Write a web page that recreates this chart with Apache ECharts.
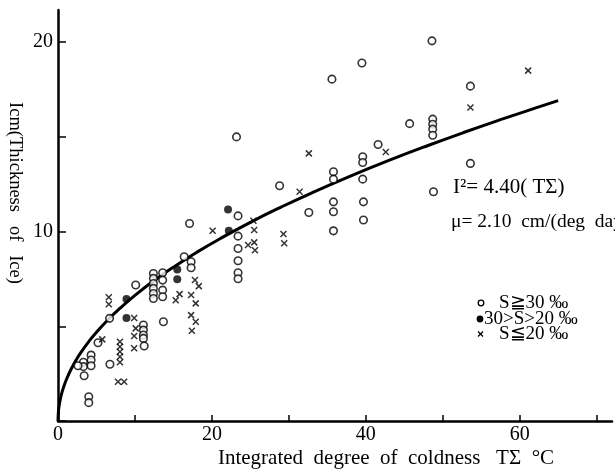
<!DOCTYPE html>
<html>
<head>
<meta charset="utf-8">
<script src="https://cdn.jsdelivr.net/npm/echarts@6/dist/echarts.min.js"></script>
<style>
  html, body { margin: 0; padding: 0; background: #fff; }
  #chart { width: 615px; height: 469px; }
</style>
</head>
<body>
<div id="chart"></div>
<script>
// Ice thickness vs. integrated degree of coldness, grouped by salinity
const highSalinity = [ // S ≧ 30‰ (open circles)
  [17.1,10.43],[16.4,8.67],[17.3,8.41],[17.3,8.09],
  [12.4,7.79],[12.4,7.53],[12.4,7.26],[12.4,7.0],[12.4,6.73],[12.4,6.47],
  [13.6,7.83],[13.6,7.44],[13.6,6.91],[13.6,6.56],
  [10.1,7.18],[6.7,5.42],[13.7,5.24],
  [11.1,5.07],[11.1,4.80],[11.1,4.54],[11.1,4.36],[11.2,3.96],
  [5.2,4.13],[4.3,3.48],[4.3,3.22],[4.3,2.92],
  [3.3,3.1],[3.3,2.87],[3.4,2.39],[2.6,2.92],[6.75,3.0],[4.0,1.28],[4.0,0.97],
  [23.4,10.83],[23.4,9.76],[23.4,9.11],[23.4,8.46],[23.4,7.83],[23.4,7.51],
  [23.2,15.0],[32.6,11.01],[35.8,11.57],[35.8,11.05],[35.8,10.04],[39.7,11.57],[39.7,10.61],
  [35.6,18.05],[39.5,18.9],[28.8,12.42],[35.8,13.16],[35.8,12.77],
  [39.6,13.95],[39.6,13.65],[39.6,12.77],[41.6,14.6],[45.7,15.7],
  [48.6,20.07],[53.6,17.68],[48.7,15.94],[48.7,15.67],[48.7,15.41],[48.7,15.09],
  [53.6,13.6],[48.8,12.1]
];
const midSalinity = [ // 30 > S > 20‰ (filled circles)
  [22.1,11.17],[22.2,10.04],[15.5,8.0],[15.5,7.48],[8.9,6.44],[8.9,5.44]
];
const lowSalinity = [ // S ≦ 20‰ (crosses)
  [20.1,10.04],[17.8,7.44],[18.3,7.12],[15.8,6.70],[15.3,6.38],[17.3,6.65],[17.9,6.21],
  [17.3,5.59],[17.9,5.24],[17.4,4.77],[6.6,6.53],[6.6,6.16],[9.9,5.44],[10.1,4.89],
  [9.9,4.49],[9.9,3.84],[5.75,4.31],[8.05,4.18],[8.05,3.92],[8.05,3.66],[8.05,3.39],
  [8.05,3.1],[7.8,2.07],[8.6,2.07],
  [25.4,10.57],[25.5,10.08],[24.7,9.29],[25.5,9.43],[25.6,9.02],[29.3,9.87],[29.4,9.38],
  [32.6,14.13],[31.4,12.1],[42.6,14.2],[61.1,18.5],[53.6,16.55]
];

// Fitted relation I^2 = K * TΣ
const K = 4.40;
const curveT = [0, 0.05, 0.15, 0.3, 0.5, 0.8, 1.2, 1.7, 2.3, 3, 4, 5, 6.5, 8, 10, 12.5, 15,
  18, 21, 25, 29, 33, 38, 43, 48, 53, 58, 62, 65];
const fitCurve = curveT.map(t => [t, Math.sqrt(K * t)]);

const xTickLabels = [0, 20, 40, 60];
const yTickLabels = [10, 20];

const serif = '"Liberation Serif", "DejaVu Serif", serif';
const crossPath = 'path://M0,0L10,10M10,0L0,10';

const chart = echarts.init(document.getElementById('chart'), null, { renderer: 'canvas' });
chart.setOption({
  animation: false,
  backgroundColor: '#fff',
  grid: { left: 58, right: 3, top: 10, bottom: 48 },
  xAxis: {
    type: 'value', min: 0, max: 72, interval: 10,
    axisLine: { lineStyle: { color: '#000', width: 2.5 } },
    axisTick: { inside: true, length: 6, lineStyle: { color: '#000', width: 1.5 } },
    axisLabel: {
      showMaxLabel: false, margin: 4,
      fontFamily: serif, fontSize: 20, color: '#000',
      formatter: v => xTickLabels.includes(v) ? String(v) : ''
    },
    splitLine: { show: false }
  },
  yAxis: {
    type: 'value', min: 0, max: 21.7, interval: 5,
    axisLine: { lineStyle: { color: '#000', width: 2.5 } },
    axisTick: { inside: true, length: 8, lineStyle: { color: '#000', width: 1.5 } },
    axisLabel: {
      showMaxLabel: false, margin: 5,
      fontFamily: serif, fontSize: 20, color: '#000',
      formatter: v => yTickLabels.includes(v) ? String(v) : ''
    },
    splitLine: { show: false }
  },
  series: [
    {
      name: 'fit', type: 'line', data: fitCurve, smooth: true, showSymbol: false,
      lineStyle: { color: '#000', width: 3 }, z: 1
    },
    {
      name: 'S≧30‰', type: 'scatter', data: highSalinity, symbol: 'circle', symbolSize: 7.5,
      itemStyle: { color: '#fff', borderColor: '#000', borderWidth: 1.6 }, z: 3
    },
    {
      name: '30>S>20‰', type: 'scatter', data: midSalinity, symbol: 'circle', symbolSize: 8,
      itemStyle: { color: '#000' }, z: 3
    },
    {
      name: 'S≦20‰', type: 'scatter', data: lowSalinity, symbol: crossPath, symbolSize: 6,
      itemStyle: { color: 'none', borderColor: '#000', borderWidth: 1.5 }, z: 3
    }
  ],
  graphic: [
    // axis titles
    { type: 'text', x: 15, y: 193, rotation: -Math.PI / 2,
      style: { text: 'Icm(Thickness   of   Ice)', font: '18.5px ' + serif, fill: '#000',
               align: 'center', verticalAlign: 'middle' } },
    { type: 'text', x: 386, y: 458,
      style: { text: 'Integrated  degree  of  coldness   TΣ  °C', font: '21px ' + serif, fill: '#000',
               align: 'center', verticalAlign: 'middle' } },
    // fitted relation
    { type: 'text', x: 453, y: 187,
      style: { text: 'I²= 4.40( TΣ)', font: '21px ' + serif, fill: '#000', verticalAlign: 'middle' } },
    { type: 'text', x: 451, y: 222,
      style: { text: 'μ= 2.10  cm/(deg  day)', font: '19.5px ' + serif, fill: '#000',
               verticalAlign: 'middle' } },
    // salinity key
    { type: 'circle', shape: { cx: 481, cy: 303, r: 2.8 },
      style: { fill: '#fff', stroke: '#000', lineWidth: 1.3 } },
    { type: 'text', x: 499, y: 303,
      style: { text: 'S≧30 ‰', font: '19px ' + serif, fill: '#000', verticalAlign: 'middle' } },
    { type: 'circle', shape: { cx: 480, cy: 319, r: 3.4 }, style: { fill: '#000' } },
    { type: 'text', x: 484, y: 319,
      style: { text: '30>S>20 ‰', font: '19px ' + serif, fill: '#000', verticalAlign: 'middle' } },
    { type: 'polyline', shape: { points: [[478, 331.5], [483, 336.5]] },
      style: { stroke: '#000', lineWidth: 1.3 } },
    { type: 'polyline', shape: { points: [[483, 331.5], [478, 336.5]] },
      style: { stroke: '#000', lineWidth: 1.3 } },
    { type: 'text', x: 499, y: 334,
      style: { text: 'S≦20 ‰', font: '19px ' + serif, fill: '#000', verticalAlign: 'middle' } }
  ]
});
</script>
</body>
</html>
